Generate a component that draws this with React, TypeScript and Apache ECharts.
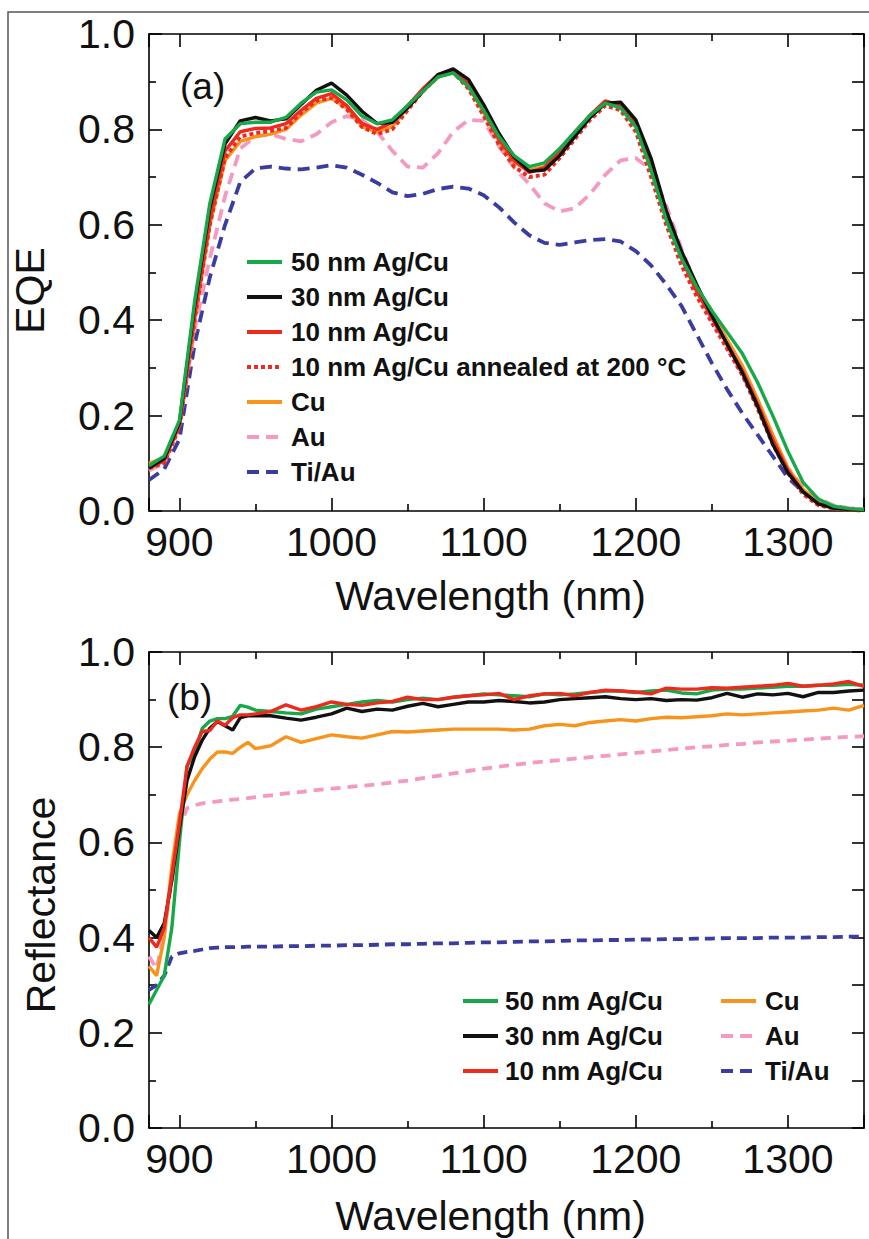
import React, { useEffect, useRef } from "react";
import * as echarts from "echarts";

// ---------- Panel (a): EQE ----------
const WL_A = [
  880, 890, 900, 910, 920, 930, 940, 950, 960, 970,
  980, 990, 1000, 1010, 1020, 1030, 1040, 1050, 1060, 1070,
  1080, 1090, 1100, 1110, 1120, 1130, 1140, 1150, 1160, 1170,
  1180, 1190, 1200, 1210, 1220, 1230, 1240, 1250, 1260, 1270,
  1280, 1290, 1300, 1310, 1320, 1330, 1340, 1350,
];
const EQE_50 = [
  0.095, 0.115, 0.19, 0.44, 0.645, 0.78, 0.812, 0.815, 0.815, 0.825,
  0.855, 0.878, 0.883, 0.862, 0.828, 0.812, 0.82, 0.85, 0.88, 0.91,
  0.918, 0.89, 0.84, 0.785, 0.745, 0.722, 0.73, 0.76, 0.795, 0.83,
  0.855, 0.845, 0.805, 0.715, 0.61, 0.53, 0.47, 0.42, 0.375, 0.33,
  0.27, 0.2, 0.125, 0.06, 0.025, 0.01, 0.005, 0.003,
];
const EQE_30 = [
  0.09, 0.11, 0.185, 0.43, 0.635, 0.77, 0.818, 0.825, 0.818, 0.822,
  0.852, 0.882, 0.897, 0.872, 0.838, 0.812, 0.815, 0.845, 0.88, 0.915,
  0.927, 0.905, 0.852, 0.792, 0.742, 0.712, 0.715, 0.745, 0.785, 0.825,
  0.855, 0.857, 0.82, 0.74, 0.63, 0.545, 0.475, 0.41, 0.35, 0.29,
  0.22, 0.14, 0.08, 0.04, 0.015, 0.006, 0.003, 0.002,
];
const EQE_10 = [
  0.09, 0.105, 0.18, 0.41, 0.61, 0.755, 0.795, 0.802, 0.803, 0.812,
  0.84, 0.865, 0.875, 0.85, 0.812, 0.8, 0.815, 0.85, 0.885, 0.915,
  0.925, 0.895, 0.84, 0.78, 0.735, 0.71, 0.72, 0.755, 0.795, 0.83,
  0.86, 0.85, 0.81, 0.72, 0.615, 0.53, 0.46, 0.405, 0.35, 0.295,
  0.225, 0.15, 0.085, 0.04, 0.015, 0.006, 0.003, 0.002,
];
const EQE_10_ANNEALED = [
  0.09, 0.1, 0.175, 0.4, 0.6, 0.74, 0.785, 0.792, 0.797, 0.803,
  0.835, 0.86, 0.866, 0.842, 0.805, 0.79, 0.8, 0.84, 0.88, 0.91,
  0.92, 0.885, 0.828, 0.768, 0.722, 0.7, 0.705, 0.74, 0.78, 0.82,
  0.85, 0.84, 0.795, 0.7, 0.6, 0.515, 0.45, 0.395, 0.34, 0.285,
  0.215, 0.14, 0.08, 0.035, 0.012, 0.005, 0.002, 0.001,
];
const EQE_CU = [
  0.1, 0.112, 0.18, 0.4, 0.6, 0.735, 0.775, 0.785, 0.79, 0.8,
  0.83, 0.855, 0.865, 0.845, 0.806, 0.795, 0.806, 0.845, 0.88, 0.91,
  0.92, 0.89, 0.835, 0.775, 0.73, 0.715, 0.722, 0.752, 0.79, 0.825,
  0.855, 0.85, 0.81, 0.72, 0.62, 0.535, 0.47, 0.415, 0.36, 0.305,
  0.235, 0.16, 0.09, 0.045, 0.018, 0.007, 0.003, 0.002,
];
const EQE_AU = [
  0.085, 0.1, 0.18, 0.38, 0.53, 0.66, 0.76, 0.785, 0.79, 0.78,
  0.775, 0.79, 0.815, 0.828, 0.82, 0.795, 0.755, 0.722, 0.72, 0.75,
  0.795, 0.82, 0.818, 0.765, 0.72, 0.685, 0.645, 0.628, 0.635, 0.665,
  0.705, 0.735, 0.74, 0.715, 0.64, 0.55, 0.47, 0.4, 0.345, 0.285,
  0.22, 0.15, 0.09, 0.05, 0.025, 0.012, 0.006, 0.003,
];
const EQE_TIAU = [
  0.065, 0.088, 0.15, 0.35, 0.49, 0.6, 0.69, 0.718, 0.722, 0.718,
  0.716, 0.72, 0.725, 0.72, 0.705, 0.688, 0.668, 0.66, 0.665, 0.675,
  0.68, 0.676, 0.662, 0.637, 0.605, 0.578, 0.562, 0.558, 0.563, 0.568,
  0.57, 0.565, 0.545, 0.515, 0.475, 0.43, 0.37, 0.31, 0.255, 0.205,
  0.16, 0.115, 0.07, 0.04, 0.02, 0.01, 0.005, 0.002,
];

// ---------- Panel (b): Reflectance ----------
const WL_B = [
  880, 885, 890, 895, 900, 905, 910, 915, 920, 925, 930, 935, 940, 945, 950,
  960, 970, 980, 990, 1000, 1010, 1020, 1030, 1040, 1050, 1060, 1070, 1080, 1090,
  1100, 1110, 1120, 1130, 1140, 1150, 1160, 1170, 1180, 1190, 1200, 1210, 1220,
  1230, 1240, 1250, 1260, 1270, 1280, 1290, 1300, 1310, 1320, 1330, 1340, 1350,
];
const R_50 = [
  0.26, 0.29, 0.32, 0.42, 0.6, 0.76, 0.79, 0.84, 0.855, 0.86, 0.86, 0.865, 0.888, 0.884, 0.878,
  0.875, 0.872, 0.87, 0.88, 0.885, 0.89, 0.895, 0.898, 0.895, 0.9, 0.903, 0.9, 0.905, 0.908,
  0.912, 0.91, 0.908, 0.906, 0.912, 0.91, 0.912, 0.915, 0.918, 0.918, 0.915, 0.918, 0.92,
  0.914, 0.912, 0.92, 0.922, 0.922, 0.924, 0.926, 0.928, 0.928, 0.93, 0.93, 0.932, 0.93,
];
const R_30 = [
  0.415, 0.4, 0.43, 0.52, 0.63, 0.73, 0.78, 0.815, 0.84, 0.854, 0.845, 0.836, 0.862, 0.866, 0.866,
  0.866, 0.861, 0.857, 0.863, 0.87, 0.882, 0.875, 0.88, 0.878, 0.886, 0.892, 0.885, 0.89, 0.895,
  0.895, 0.898, 0.896, 0.893, 0.895, 0.9, 0.902, 0.904, 0.906, 0.902, 0.9, 0.902, 0.898,
  0.9, 0.899, 0.904, 0.913, 0.905, 0.912, 0.91, 0.913, 0.906, 0.915, 0.915, 0.918, 0.92,
];
const R_10 = [
  0.4, 0.38, 0.42, 0.53, 0.64, 0.76, 0.8, 0.833, 0.835, 0.855, 0.846, 0.862, 0.868, 0.868, 0.87,
  0.875, 0.889, 0.878, 0.885, 0.895, 0.89, 0.888, 0.893, 0.896, 0.905, 0.9, 0.9, 0.905, 0.908,
  0.91, 0.913, 0.9, 0.908, 0.912, 0.913, 0.908, 0.915, 0.92, 0.918, 0.916, 0.912, 0.924,
  0.922, 0.922, 0.925, 0.924, 0.926, 0.928, 0.93, 0.934, 0.928, 0.93, 0.933, 0.938, 0.928,
];
const R_CU = [
  0.34, 0.32, 0.4, 0.55, 0.66, 0.7, 0.73, 0.755, 0.775, 0.79, 0.79, 0.787, 0.8, 0.81, 0.797,
  0.803, 0.822, 0.81, 0.818, 0.826, 0.822, 0.819, 0.826, 0.833, 0.832, 0.834, 0.836, 0.838, 0.838,
  0.838, 0.838, 0.836, 0.838, 0.845, 0.848, 0.845, 0.852, 0.855, 0.858, 0.855, 0.86, 0.863,
  0.862, 0.864, 0.866, 0.87, 0.868, 0.87, 0.872, 0.874, 0.876, 0.878, 0.882, 0.878, 0.888,
];
const R_AU = [
  0.36, 0.335, 0.41, 0.52, 0.63, 0.672, 0.678, 0.682, 0.684, 0.686, 0.688, 0.69, 0.691, 0.693, 0.695,
  0.699, 0.703, 0.706, 0.71, 0.713, 0.716, 0.719, 0.722, 0.726, 0.73, 0.735, 0.74, 0.745, 0.75,
  0.755, 0.759, 0.763, 0.767, 0.77, 0.773, 0.776, 0.779, 0.782, 0.785, 0.788, 0.791, 0.794,
  0.797, 0.8, 0.802, 0.805, 0.807, 0.81, 0.812, 0.814, 0.816, 0.818, 0.82, 0.822, 0.823,
];
const R_TIAU = [
  0.29, 0.3, 0.32, 0.36, 0.367, 0.37, 0.372, 0.375, 0.378, 0.379, 0.38, 0.38, 0.38, 0.381, 0.381,
  0.381, 0.382, 0.382, 0.383, 0.383, 0.384, 0.384, 0.385, 0.386, 0.386, 0.387, 0.388, 0.388, 0.389,
  0.39, 0.39, 0.391, 0.392, 0.392, 0.393, 0.394, 0.394, 0.395, 0.395, 0.396, 0.396, 0.397,
  0.397, 0.398, 0.398, 0.399, 0.399, 0.399, 0.4, 0.4, 0.4, 0.401, 0.401, 0.402, 0.402,
];

const Y_TICKS_LABEL_DIGITS = 1;

const N50 = "50 nm Ag/Cu";
const N30 = "30 nm Ag/Cu";
const N10 = "10 nm Ag/Cu";
const N10A = "10 nm Ag/Cu annealed at 200 °C";
const NCU = "Cu";
const NAU = "Au";
const NTI = "Ti/Au";

const C_GREEN = "#17a84a";
const C_BLACK = "#111111";
const C_RED = "#ee2a1f";
const C_ORANGE = "#f7941d";
const C_PINK = "#f49ac2";
const C_BLUE = "#3a3c9f";

const FONT = "'Liberation Sans', Arial, sans-serif";

function mk(name: string, wl: number[], vals: number[], color: string, type: any, width: number, idx: number) {
  return {
    type: "line",
    name,
    xAxisIndex: idx * 2,
    yAxisIndex: idx * 2,
    data: wl.map((x, i) => [x, vals[i]]),
    symbol: "none",
    showSymbol: false,
    smooth: false,
    lineStyle: { color, width, type, cap: "butt" },
    itemStyle: { color },
    emphasis: { disabled: true },
  };
}

function xAxes(gi: number) {
  const tickStyle = { color: "#000", width: 1.6 };
  const base = {
    type: "value",
    gridIndex: gi,
    min: 880,
    max: 1350,
    splitLine: { show: false },
    minorSplitLine: { show: false },
    axisLine: { show: true, onZero: false, lineStyle: { color: "#000", width: 1.6 } },
    axisTick: { show: true, inside: true, length: 13, lineStyle: tickStyle },
    minorTick: { show: true, splitNumber: 2, length: 7, lineStyle: tickStyle },
  };
  return [
    {
      ...base,
      position: "bottom",
      name: "Wavelength (nm)",
      nameLocation: "middle",
      nameGap: gi === 0 ? 64 : 67,
      nameTextStyle: { fontSize: 41, fontFamily: FONT, color: "#111", padding: [0, 32, 0, 0] },
      axisLabel: {
        show: true,
        showMinLabel: false,
        showMaxLabel: false,
        fontSize: 41,
        fontFamily: FONT,
        color: "#111",
        margin: 10,
        formatter: (v: number) => String(v),
      },
    },
    { ...base, position: "top", axisLabel: { show: false } },
  ];
}

function yAxes(gi: number, name: string, gap: number, pad: number) {
  const tickStyle = { color: "#000", width: 1.6 };
  return [
    {
      type: "value",
      gridIndex: gi,
      position: "left",
      min: 0,
      max: 1,
      interval: 0.2,
      splitLine: { show: false },
      minorSplitLine: { show: false },
      axisLine: { show: true, onZero: false, lineStyle: { color: "#000", width: 1.6 } },
      axisTick: { show: true, inside: true, length: 13, lineStyle: tickStyle },
      minorTick: { show: true, splitNumber: 2, length: 7, lineStyle: tickStyle },
      axisLabel: {
        fontSize: 41,
        fontFamily: FONT,
        color: "#111",
        margin: 14,
        formatter: (v: number) => v.toFixed(Y_TICKS_LABEL_DIGITS),
      },
      name,
      nameLocation: "middle",
      nameGap: gap,
      nameTextStyle: { fontSize: 41, fontFamily: FONT, color: "#111", padding: [0, pad, 0, 0] },
    },
    {
      type: "value",
      gridIndex: gi,
      position: "right",
      min: 0,
      max: 1,
      interval: 0.1,
      splitLine: { show: false },
      axisLine: { show: true, onZero: false, lineStyle: { color: "#000", width: 1.6 } },
      axisTick: { show: true, inside: true, length: 12, lineStyle: tickStyle },
      axisLabel: { show: false },
    },
  ];
}

export default function App() {
  const ref = useRef<HTMLDivElement>(null);
  useEffect(() => {
    document.body.style.margin = "0";
    if (!ref.current) return;
    const chart = echarts.init(ref.current, undefined, { renderer: "svg" });
    const legendText = (padLeft: number) => ({
      fontSize: 26,
      fontWeight: "bold",
      fontFamily: FONT,
      color: "#111",
      lineHeight: 28,
      padding: [0, 0, 0, padLeft],
    });
    const legendBase = {
      orient: "vertical",
      itemWidth: 35,
      itemHeight: 14,
      itemGap: 7,
      selectedMode: false,
      itemStyle: { opacity: 0, borderWidth: 0 },
      lineStyle: { width: 4 },
    };
    const option: any = {
      animation: false,
      backgroundColor: "#ffffff",
      textStyle: { fontFamily: FONT },
      grid: [
        { left: 149, top: 34, width: 715, height: 477, containLabel: false },
        { left: 149, top: 652, width: 715, height: 476, containLabel: false },
      ],
      xAxis: [...xAxes(0), ...xAxes(1)],
      yAxis: [...yAxes(0, "EQE", 99, 36), ...yAxes(1, "Reflectance", 88, 30)],
      legend: [
        {
          ...legendBase,
          left: 240,
          top: 243,
          data: [N50, N30, N10, N10A, NCU, NAU, NTI],
          textStyle: legendText(4),
        },
        {
          ...legendBase,
          left: 456,
          top: 982,
          data: [N50, N30, N10],
          textStyle: legendText(2),
        },
        {
          ...legendBase,
          left: 714,
          top: 982,
          data: [NCU, NAU, NTI],
          textStyle: legendText(4),
        },
      ],
      series: [
        mk(NTI, WL_A, EQE_TIAU, C_BLUE, [12, 7], 3.8, 0),
        mk(NAU, WL_A, EQE_AU, C_PINK, [12, 7], 3.8, 0),
        mk(NCU, WL_A, EQE_CU, C_ORANGE, "solid", 3.4, 0),
        mk(N10, WL_A, EQE_10, C_RED, "solid", 3.4, 0),
        mk(N10A, WL_A, EQE_10_ANNEALED, C_RED, [4, 3], 3.8, 0),
        mk(N30, WL_A, EQE_30, C_BLACK, "solid", 3.4, 0),
        mk(N50, WL_A, EQE_50, C_GREEN, "solid", 3.4, 0),

        mk(NTI, WL_B, R_TIAU, C_BLUE, [10, 6], 3.8, 1),
        mk(NAU, WL_B, R_AU, C_PINK, [10, 7], 3.8, 1),
        mk(NCU, WL_B, R_CU, C_ORANGE, "solid", 3.4, 1),
        mk(N50, WL_B, R_50, C_GREEN, "solid", 3.4, 1),
        mk(N30, WL_B, R_30, C_BLACK, "solid", 3.4, 1),
        mk(N10, WL_B, R_10, C_RED, "solid", 3.4, 1),
      ],
      graphic: [
        {
          type: "rect",
          silent: true,
          shape: { x: 8, y: 12, width: 900, height: 1300 },
          style: { fill: "none", stroke: "#555", lineWidth: 1.5 },
        },
        {
          type: "text",
          silent: true,
          x: 180,
          y: 86,
          style: { text: "(a)", fontSize: 37, fontFamily: FONT, fill: "#111", verticalAlign: "middle", align: "left" },
        },
        {
          type: "text",
          silent: true,
          x: 167,
          y: 697,
          style: { text: "(b)", fontSize: 37, fontFamily: FONT, fill: "#111", verticalAlign: "middle", align: "left" },
        },
      ],
    };
    chart.setOption(option);
    return () => chart.dispose();
  }, []);
  return <div ref={ref} style={{ width: 869, height: 1239 }} />;
}
